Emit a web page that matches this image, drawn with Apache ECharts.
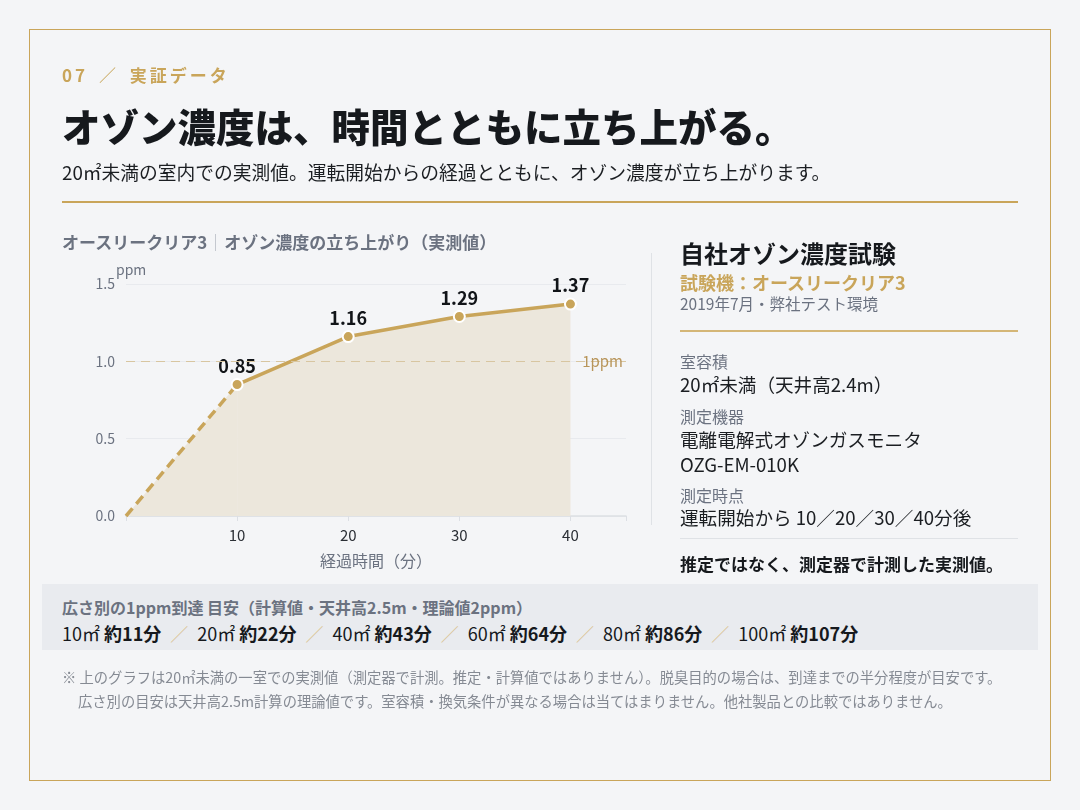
<!DOCTYPE html>
<html lang="ja">
<head>
<meta charset="utf-8">
<title>オゾン濃度は、時間とともに立ち上がる。</title>
<script src="https://cdn.jsdelivr.net/npm/echarts@6/dist/echarts.min.js"></script>
<style>
  html, body { margin: 0; padding: 0; background: #f4f5f7; }
  body { width: 1080px; height: 810px; position: relative; overflow: hidden;
         font-family: "Noto Sans CJK JP", "Noto Sans", sans-serif; color: #16191d; }
  .abs { position: absolute; white-space: nowrap; line-height: 1; }
  #frame { position: absolute; left: 29px; top: 29px; width: 1020px; height: 750px; border: 1.5px solid #c9a55a; }
  #chart { position: absolute; left: 0; top: 0; width: 1080px; height: 810px; }
  .gold { color: #c9a55a; }
  .gray { color: #6b7280; }
  .rule { position: absolute; height: 0; }
  .lbl { font-size: 16px; color: #6b7280; }
  .val { font-size: 18.6px; color: #1b1e22; }
  #band { position: absolute; left: 42px; top: 584px; width: 996px; height: 66px; background: #e9ebef; }
  .sep { color: #d9c28f; margin: 0 9px; font-weight: 400; }
  .note { font-size: 14.3px; color: #858a93; }
</style>
</head>
<body>
<div id="frame"></div>
<div id="chart"></div>

<!-- header -->
<div class="abs gold" style="left:62px;top:66px;font-size:17px;font-weight:700;letter-spacing:3px;">07 <span style="font-weight:300;margin:0 4px;">／</span> 実証データ</div>
<div class="abs" style="left:62px;top:106px;font-size:38.5px;font-weight:900;">オゾン濃度は、時間とともに立ち上がる。</div>
<div class="abs" style="left:62px;top:163px;font-size:18.75px;color:#1b1e22;">20㎡未満の室内での実測値。運転開始からの経過とともに、オゾン濃度が立ち上がります。</div>
<div class="rule" style="left:62px;top:201px;width:956px;border-top:2px solid #c9a55a;"></div>

<!-- chart title -->
<div class="abs gray" style="left:62px;top:233px;font-size:17px;font-weight:700;">オースリークリア3<span style="display:inline-block;width:0;height:17px;border-left:1px solid #c4c8cf;margin:0 8px;vertical-align:-2px;"></span>オゾン濃度の立ち上がり（実測値）</div>

<!-- right panel -->
<div class="rule" style="left:651px;top:253px;width:0;height:272px;border-left:1px solid #dfe2e6;"></div>
<div class="abs" style="left:680px;top:241px;font-size:24px;font-weight:700;">自社オゾン濃度試験</div>
<div class="abs gold" style="left:680px;top:273px;font-size:18px;font-weight:700;">試験機：オースリークリア3</div>
<div class="abs gray" style="left:680px;top:296px;font-size:15.5px;">2019年7月・弊社テスト環境</div>
<div class="rule" style="left:680px;top:330px;width:338px;border-top:2px solid #d4b677;"></div>
<div class="abs lbl" style="left:680px;top:353px;">室容積</div>
<div class="abs val" style="left:680px;top:375px;">20㎡未満（天井高2.4m）</div>
<div class="abs lbl" style="left:680px;top:408px;">測定機器</div>
<div class="abs val" style="left:680px;top:430px;">電離電解式オゾンガスモニタ</div>
<div class="abs val" style="left:680px;top:455px;">OZG-EM-010K</div>
<div class="abs lbl" style="left:680px;top:487px;">測定時点</div>
<div class="abs val" style="left:680px;top:508px;">運転開始から 10／20／30／40分後</div>
<div class="rule" style="left:680px;top:538px;width:338px;border-top:1.5px solid #dfe2e6;"></div>
<div class="abs" style="left:680px;top:555px;font-size:17px;font-weight:700;">推定ではなく、測定器で計測した実測値。</div>

<!-- estimate band -->
<div id="band"></div>
<div class="abs gray" style="left:62px;top:599px;font-size:16px;font-weight:700;">広さ別の1ppm到達 目安（計算値・天井高2.5m・理論値2ppm）</div>
<div class="abs" id="estimates" style="left:62px;top:624px;font-size:18px;color:#16191d;"></div>

<!-- notes -->
<div class="abs note" style="left:62px;top:670px;">※ 上のグラフは20㎡未満の一室での実測値（測定器で計測。推定・計算値ではありません）。脱臭目的の場合は、到達までの半分程度が目安です。</div>
<div class="abs note" style="left:78px;top:694px;">広さ別の目安は天井高2.5m計算の理論値です。室容積・換気条件が異なる場合は当てはまりません。他社製品との比較ではありません。</div>

<script>
// 経過時間（分）と実測値（ppm）
var minutes = [0, 10, 20, 30, 40];
var ppm = [0, 0.85, 1.16, 1.29, 1.37];
var yTicks = [0, 0.5, 1.0, 1.5];
// 広さ別の目安
var areas = ['10㎡', '20㎡', '40㎡', '60㎡', '80㎡', '100㎡'];
var reachMin = [11, 22, 43, 64, 86, 107];

var html = [];
for (var i = 0; i < areas.length; i++) {
  html.push(areas[i] + ' <b>約' + reachMin[i] + '分</b>');
}
document.getElementById('estimates').innerHTML = html.join('<span class="sep">／</span>');

var gold = '#c9a55a';
var fill = '#ece7dc';
var startSeg = [[minutes[0], ppm[0]], [minutes[1], ppm[1]]];
var mainSeg = [];
for (var j = 1; j < minutes.length; j++) mainSeg.push([minutes[j], ppm[j]]);

var chart = echarts.init(document.getElementById('chart'), null, { renderer: 'canvas' });
chart.setOption({
  animation: false,
  textStyle: { fontFamily: '"Noto Sans CJK JP", "Noto Sans", sans-serif' },
  grid: { left: 126, top: 284, width: 500, height: 232 },
  xAxis: {
    type: 'value', min: 0, max: 45, interval: 10,
    name: '経過時間（分）', nameLocation: 'middle', nameGap: 37,
    nameTextStyle: { color: '#6b7280', fontSize: 16 },
    axisLine: { show: true, lineStyle: { color: '#dcdfe4', width: 1.5 } },
    axisTick: { show: true, length: 5, lineStyle: { color: '#dcdfe4' } },
    splitLine: { show: false },
    axisLabel: {
      color: '#2b2f35', fontSize: 15, margin: 12,
      formatter: function (v) { return v === 0 || v > 40 ? '' : String(v); }
    }
  },
  yAxis: {
    type: 'value', min: yTicks[0], max: yTicks[yTicks.length - 1], interval: 0.5,
    name: 'ppm', nameGap: 5,
    nameTextStyle: { color: '#6b7280', fontSize: 14, align: 'left', padding: [0, 0, 0, -10] },
    axisLine: { show: false }, axisTick: { show: false },
    splitLine: { lineStyle: { color: '#e8eaee', width: 1 } },
    axisLabel: { color: '#6b7280', fontSize: 14, margin: 11, formatter: function (v) { return v.toFixed(1); } }
  },
  series: [
    {
      type: 'line', data: startSeg, showSymbol: false, z: 2,
      lineStyle: { color: gold, width: 3.5, type: [10, 6] },
      areaStyle: { color: fill, opacity: 1 }
    },
    {
      type: 'line', data: mainSeg, z: 3,
      symbol: 'circle', symbolSize: 11,
      itemStyle: { color: gold, borderColor: '#ffffff', borderWidth: 2 },
      lineStyle: { color: gold, width: 3.5 },
      areaStyle: { color: fill, opacity: 1 },
      label: {
        show: true, position: 'top', distance: 3,
        color: '#111418', fontSize: 18, fontWeight: 700,
        formatter: function (p) { return p.value[1].toFixed(2); }
      },
      markLine: {
        silent: true, symbol: 'none',
        lineStyle: { color: '#d8c6a1', width: 1, type: [9, 6] },
        label: { show: true, position: 'insideEnd', formatter: '1ppm', color: '#b8955a', fontSize: 15, distance: 3 },
        data: [{ yAxis: 1 }]
      }
    }
  ]
});
</script>
</body>
</html>
